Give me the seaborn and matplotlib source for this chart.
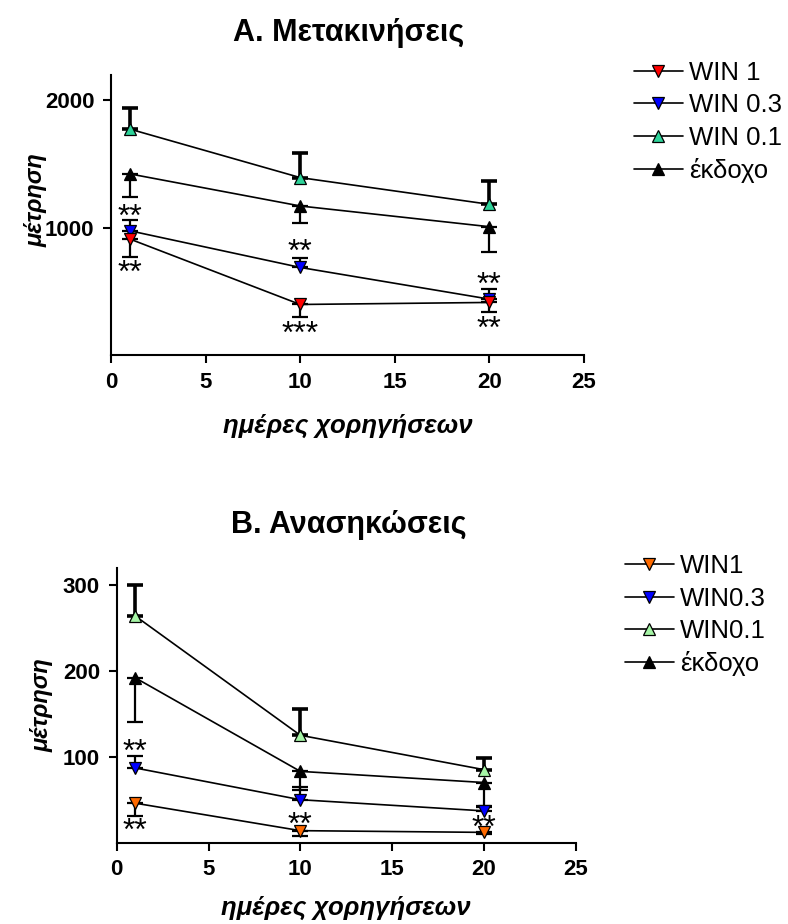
import matplotlib
matplotlib.use("Agg")
import matplotlib.pyplot as plt
from matplotlib.lines import Line2D
import seaborn as sns
import pandas as pd
import numpy as np

# ---------------- data ----------------
days = [1, 10, 20]

# Panel A: Μετακινήσεις
a_labels = ["WIN 1", "WIN 0.3", "WIN 0.1", "έκδοχο"]
a_win1 = [911, 397, 413]
a_win1_sem = [139, 98, 79]          # drawn downward
a_win03 = [976, 688, 439]
a_win03_sem = [85, 76, 78]          # drawn upward
a_win01 = [1775, 1394, 1184]
a_win01_sem = [165, 192, 184]       # drawn upward
a_veh = [1423, 1171, 1008]
a_veh_sem = [184, 132, 197]         # drawn downward

a_star_x = [1, 1, 10, 10, 20, 20]
a_star_y = [1076, 640, 800, 160, 546, 200]
a_star_txt = ["**", "**", "**", "***", "**", "**"]

# Panel B: Ανασηκώσεις
b_labels = ["WIN1", "WIN0.3", "WIN0.1", "έκδοχο"]
b_win1 = [46, 14, 12]
b_win1_sem = [15, 6, 2]             # downward
b_win03 = [87, 50, 37]
b_win03_sem = [14, 15, 5]           # upward
b_win01 = [264, 125, 85]
b_win01_sem = [36, 30, 13]          # upward
b_veh = [192, 83, 70]
b_veh_sem = [52, 22, 27]            # downward

b_star_x = [1, 1, 10, 20]
b_star_y = [104, 13, 20, 16]
b_star_txt = ["**", "**", "**", "**"]

# ---------------- style ----------------
sns.set_theme(style="ticks")
plt.rcParams['font.family'] = ['Liberation Sans', 'DejaVu Sans']

fig = plt.figure(figsize=(7.88, 9.24), dpi=100)
axA = fig.add_axes([0.1409, 0.6158, 0.6002, 0.3030])
axB = fig.add_axes([0.1481, 0.0880, 0.5825, 0.2976])


def draw_series(ax, vals, sem, direction, marker, face, err_lw):
    df = pd.DataFrame({"day": days, "value": vals})
    lower = [s if direction == "down" else 0 for s in sem]
    upper = [s if direction == "up" else 0 for s in sem]
    ax.errorbar(days, vals, yerr=[lower, upper], fmt="none", ecolor="black",
                elinewidth=err_lw, capsize=5.5, capthick=err_lw, zorder=2)
    sns.lineplot(data=df, x="day", y="value", ax=ax, color="black", lw=1.2,
                 marker=marker, markersize=9, markerfacecolor=face,
                 markeredgecolor="black", markeredgewidth=0.9, zorder=3,
                 legend=False)


def style_axes(ax, ylim, yticks):
    ax.set_xlim(0, 25)
    ax.set_ylim(*ylim)
    ax.set_xticks([0, 5, 10, 15, 20, 25])
    ax.set_yticks(yticks)
    for s in ["top", "right"]:
        ax.spines[s].set_visible(False)
    for s in ["left", "bottom"]:
        ax.spines[s].set_linewidth(1.5)
        ax.spines[s].set_color("black")
    ax.tick_params(direction="out", length=6, width=1.5, colors="black",
                   labelsize=16, pad=6)
    for lab in ax.get_xticklabels() + ax.get_yticklabels():
        lab.set_fontweight("bold")
    ax.set_xlabel("")
    ax.set_ylabel("")


star_font = dict(ha="center", va="center", fontsize=23, color="black")

# Panel A
cA = {"WIN 1": "#FF0000", "WIN 0.3": "#0000FF", "WIN 0.1": "#2ED39A", "έκδοχο": "#000000"}
draw_series(axA, a_win01, a_win01_sem, "up", "^", cA["WIN 0.1"], 2.6)
draw_series(axA, a_veh, a_veh_sem, "down", "^", cA["έκδοχο"], 1.6)
draw_series(axA, a_win03, a_win03_sem, "up", "v", cA["WIN 0.3"], 1.6)
draw_series(axA, a_win1, a_win1_sem, "down", "v", cA["WIN 1"], 1.6)
style_axes(axA, (0, 2200), [1000, 2000])
for x, y, t in zip(a_star_x, a_star_y, a_star_txt):
    axA.text(x, y, t, **star_font)

# Panel B
cB = {"WIN1": "#FF6A00", "WIN0.3": "#0000FF", "WIN0.1": "#A6F5A6", "έκδοχο": "#000000"}
draw_series(axB, b_win01, b_win01_sem, "up", "^", cB["WIN0.1"], 2.6)
draw_series(axB, b_veh, b_veh_sem, "down", "^", cB["έκδοχο"], 1.6)
draw_series(axB, b_win03, b_win03_sem, "up", "v", cB["WIN0.3"], 1.6)
draw_series(axB, b_win1, b_win1_sem, "down", "v", cB["WIN1"], 1.6)
style_axes(axB, (0, 320), [100, 200, 300])
for x, y, t in zip(b_star_x, b_star_y, b_star_txt):
    axB.text(x, y, t, **star_font)

# Labels
ylab_font = dict(fontsize=17, fontweight="bold", fontstyle="italic", color="black")
xlab_font = dict(fontsize=18.5, fontweight="bold", fontstyle="italic", color="black")
axA.set_ylabel("μέτρηση", **ylab_font)
axA.yaxis.set_label_coords(-0.135, 0.554)
axA.set_xlabel("ημέρες χορηγήσεων", **xlab_font)
axA.xaxis.set_label_coords(0.5, -0.21)
axB.set_ylabel("μέτρηση", **ylab_font)
axB.yaxis.set_label_coords(-0.138, 0.5)
axB.set_xlabel("ημέρες χορηγήσεων", **xlab_font)
axB.xaxis.set_label_coords(0.5, -0.193)

fig.text(0.443, 1 - 33 / 924, "A. Μετακινήσεις", ha="center", va="center",
         fontsize=22, fontweight="bold", color="black")
fig.text(0.443, 1 - 525 / 924, "B. Ανασηκώσεις", ha="center", va="center",
         fontsize=22, fontweight="bold", color="black")


def make_legend(labels, colors, markers, anchor):
    handles = [Line2D([0], [0], color="black", lw=1.2, marker=m, markersize=8.5,
                      markerfacecolor=colors[l], markeredgecolor="black",
                      markeredgewidth=0.9)
               for l, m in zip(labels, markers)]
    leg = fig.legend(handles, labels, loc="upper left", bbox_to_anchor=anchor,
                     bbox_transform=fig.transFigure, frameon=False,
                     fontsize=18.5, handlelength=1.9, handletextpad=0.25,
                     labelspacing=0.33, borderpad=0, borderaxespad=0)
    for t in leg.get_texts():
        t.set_color("black")
    return leg


make_legend(a_labels, cA, ["v", "v", "^", "^"], (0.8046, 0.934))
make_legend(b_labels, cB, ["v", "v", "^", "^"], (0.793, 0.4004))

fig.savefig("out.png", dpi=100)
